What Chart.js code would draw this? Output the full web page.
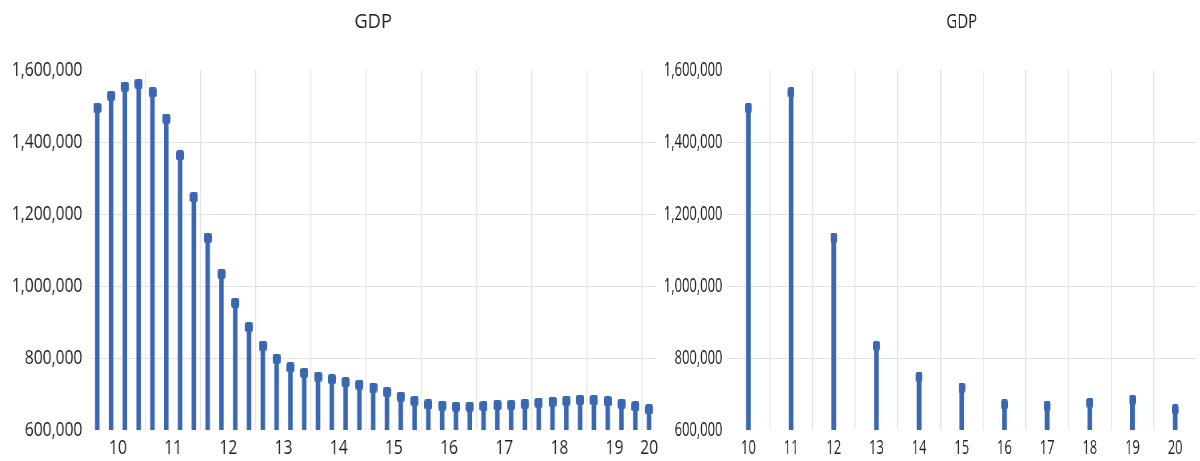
<!DOCTYPE html>
<html>
<head>
<meta charset="utf-8">
<title>GDP</title>
<script src="https://cdn.jsdelivr.net/npm/chart.js@4.4.1/dist/chart.umd.min.js"></script>
<style>
  html, body { margin: 0; padding: 0; background: #ffffff; }
  #wrap { position: relative; width: 1200px; height: 461px; overflow: hidden; background: #ffffff; }
  /* both panels are drawn in a horizontally condensed frame */
  #quarterly { position: absolute; left: 0; top: 0; transform: scaleX(0.8); transform-origin: 0 0; }
  #annual { position: absolute; left: 656px; top: 0; transform: scaleX(0.664); transform-origin: 0 0; }
</style>
</head>
<body>
<div id="wrap">
  <canvas id="quarterly" width="840" height="461"></canvas>
  <canvas id="annual" width="820" height="461"></canvas>
</div>
<script>
// ---- data ----
const chartTitle = 'GDP';
const years = [10, 11, 12, 13, 14, 15, 16, 17, 18, 19, 20];

// one reading per quarter, from Q1 of year 10 to Q1 of year 20
const quarterlyGDP = [
  1495000, 1528000, 1554000, 1562000,
  1538000, 1465000, 1363000, 1247000,
  1134000, 1034000,  953000,  886000,
   834000,  798000,  774000,  759000,
   748000,  741000,  733000,  726000,
   718000,  706000,  693000,  681000,
   671000,  668000,  665000,  665000,
   667000,  669000,  670000,  673000,
   676000,  679000,  681000,  684000,
   683000,  680000,  673000,  666000,
   657000
];

// first-quarter reading of each year
const annualGDP = [1495000, 1538000, 1134000, 834000, 748000, 718000, 671000, 667000, 676000, 684000, 657000];

const yTicks = [600000, 800000, 1000000, 1200000, 1400000, 1600000];

// ---- styles ----
const BLUE = '#3a67b1';
const GRID = '#e3e3e3';
const INK = '#1e1e1e';
const FONT = "'Open Sans', 'DejaVu Sans', sans-serif";

function makeMarker(w, h, r, color) {
  const c = document.createElement('canvas');
  c.width = w; c.height = h;
  const g = c.getContext('2d');
  g.fillStyle = color;
  g.beginPath();
  g.roundRect(0, 0, w, h, r);
  g.fill();
  return c;
}
const marker = makeMarker(10, 10, 2.5, BLUE);

// centred panel title above the plot area
const panelTitle = {
  id: 'panelTitle',
  afterDraw(chart, args, opts) {
    const { ctx, chartArea } = chart;
    ctx.save();
    ctx.font = `${opts.size}px ${FONT}`;
    ctx.fillStyle = INK;
    ctx.textAlign = 'center';
    ctx.textBaseline = 'alphabetic';
    ctx.translate((chartArea.left + chartArea.right) / 2, opts.baseline);
    ctx.scale(opts.stretch, 1);
    ctx.fillText(opts.text, 0, 0);
    ctx.restore();
  }
};

// x ticks: unlabeled ticks at category boundaries carry the grid lines,
// labeled ticks sit in the middle of each category
function buildXTicks(boundaries, labelled) {
  return boundaries.map(v => ({ value: v, grid: true, text: '' }))
    .concat(labelled.map(t => ({ value: t.value, grid: false, text: t.text })))
    .sort((a, b) => a.value - b.value);
}

function stemChart(canvas, points, xMin, xMax, xTickList, cfg) {
  return new Chart(canvas, {
    type: 'bar',
    data: {
      datasets: [
        {
          type: 'line',
          data: points,
          showLine: false,
          pointStyle: marker,
          pointRadius: 5,
          order: 0
        },
        {
          type: 'bar',
          data: points,
          backgroundColor: BLUE,
          borderWidth: 0,
          barThickness: cfg.stemWidth,
          order: 1
        }
      ]
    },
    options: {
      responsive: false,
      animation: false,
      events: [],
      layout: { padding: { top: 70, right: cfg.padRight, bottom: 0, left: 0 } },
      plugins: {
        legend: { display: false },
        tooltip: { enabled: false },
        title: { display: false },
        panelTitle: { text: chartTitle, size: 20.5, baseline: 27.5, stretch: cfg.titleStretch }
      },
      scales: {
        x: {
          type: 'linear',
          min: xMin,
          max: xMax,
          offset: false,
          afterBuildTicks: s => { s.ticks = xTickList.map(t => ({ value: t.value, grid: t.grid, text: t.text })); },
          afterFit: s => { s.height = 31; },
          border: { display: false },
          grid: {
            offset: false,
            drawTicks: false,
            lineWidth: cfg.gridWidth,
            color: c => (c.tick && c.tick.grid) ? GRID : 'rgba(0,0,0,0)'
          },
          ticks: {
            autoSkip: false,
            maxRotation: 0,
            padding: 7,
            color: INK,
            font: { family: FONT, size: 19.5 },
            callback: (v, i, ts) => ts[i].text
          }
        },
        y: {
          type: 'linear',
          min: yTicks[0],
          max: yTicks[yTicks.length - 1],
          beginAtZero: false,
          afterBuildTicks: s => { s.ticks = yTicks.map(v => ({ value: v })); },
          afterFit: s => { s.width = cfg.yAxisWidth; },
          border: { display: false },
          grid: {
            drawTicks: false,
            lineWidth: 1,
            color: c => (c.tick && c.tick.value > yTicks[0] && c.tick.value < yTicks[yTicks.length - 1]) ? GRID : 'rgba(0,0,0,0)'
          },
          ticks: {
            padding: cfg.yPad,
            color: INK,
            font: { family: FONT, size: 19.5 },
            callback: v => Number(v).toLocaleString('en-US')
          }
        }
      }
    },
    plugins: [panelTitle]
  });
}

// ---- quarterly panel ----
const quarterPos = quarterlyGDP.map((_, i) => years[0] + (i + 0.5) / 4);
const quarterPoints = quarterlyGDP.map((v, i) => ({ x: quarterPos[i], y: v }));
const yearCentres = years.map((yr, k) => {
  const xs = quarterPos.filter((_, i) => Math.floor(i / 4) === k);
  return { value: xs.reduce((a, b) => a + b, 0) / xs.length, text: String(yr) };
}).filter(t => !isNaN(t.value));
const qMin = years[0];
const qMax = years[0] + quarterlyGDP.length / 4;
const qTicks = buildXTicks(years.filter(y => y > qMin && y < qMax), yearCentres);

stemChart(document.getElementById('quarterly'), quarterPoints, qMin, qMax, qTicks,
  { stemWidth: 5, padRight: 20, yAxisWidth: 113, yPad: 10, gridWidth: 1.25, titleStretch: 1.12 });

// ---- annual panel ----
const annualPoints = annualGDP.map((v, i) => ({ x: years[i], y: v }));
const aMin = years[0] - 0.5;
const aMax = years[years.length - 1] + 0.5;
const aTicks = buildXTicks(years.slice(1).map(y => y - 0.5),
  years.map(y => ({ value: y, text: String(y) })));

stemChart(document.getElementById('annual'), annualPoints, aMin, aMax, aTicks,
  { stemWidth: 6.5, padRight: 2, yAxisWidth: 107, yPad: 7, gridWidth: 1.5, titleStretch: 1.1 });
</script>
</body>
</html>
